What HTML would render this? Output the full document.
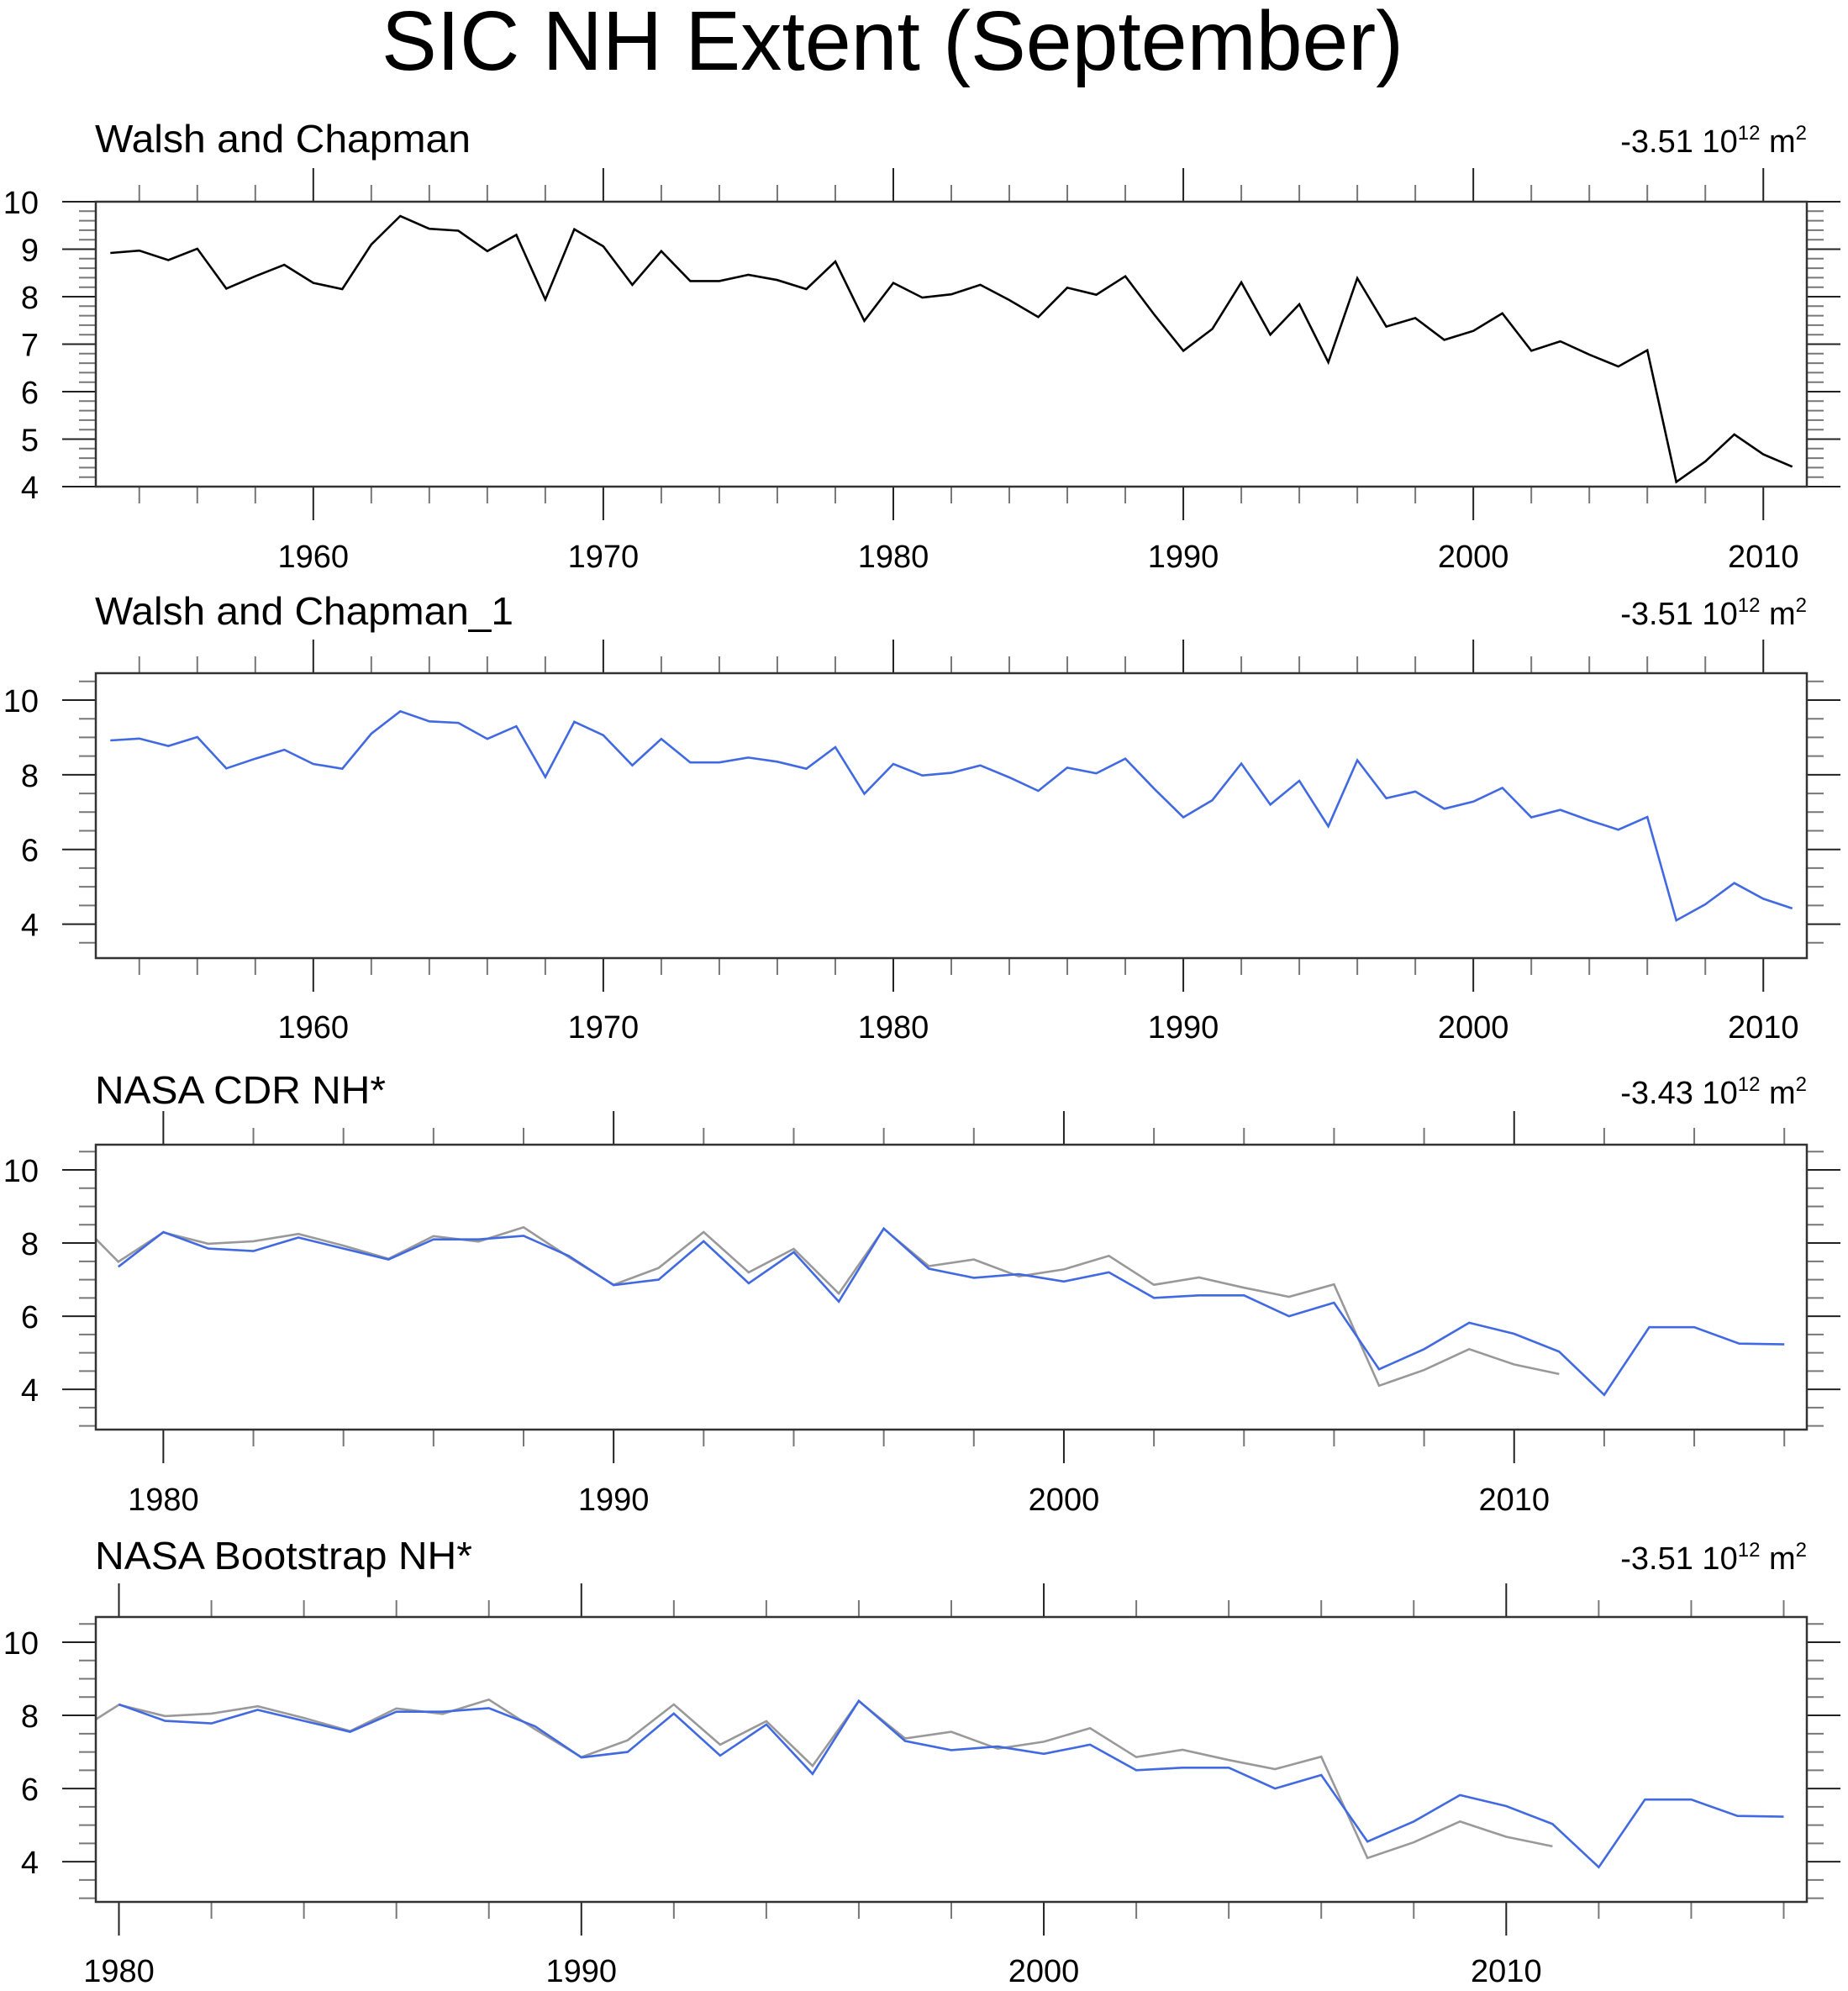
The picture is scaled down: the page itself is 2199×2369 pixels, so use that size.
<!DOCTYPE html>
<html><head><meta charset="utf-8"><title>SIC NH Extent (September)</title>
<style>
html,body{margin:0;padding:0;background:#fff;}
svg{display:block;font-family:"Liberation Sans",Arial,sans-serif;}
</style></head>
<body>
<svg id="chart" xmlns="http://www.w3.org/2000/svg" width="2199" height="2369" viewBox="0 0 2199 2369">
<rect x="0" y="0" width="2199" height="2369" fill="#fff"/>
<text x="1062" y="83" font-size="100" text-anchor="middle" textLength="1216" lengthAdjust="spacingAndGlyphs" fill="#000">SIC NH Extent (September)</text>
</svg>
<script>
// ---- data ----
const wcYears = [1953,1954,1955,1956,1957,1958,1959,1960,1961,1962,1963,1964,1965,1966,1967,1968,1969,1970,1971,1972,1973,1974,1975,1976,1977,1978,1979,1980,1981,1982,1983,1984,1985,1986,1987,1988,1989,1990,1991,1992,1993,1994,1995,1996,1997,1998,1999,2000,2001,2002,2003,2004,2005,2006,2007,2008,2009,2010,2011];
const wcValues = [8.92,8.97,8.77,9.01,8.17,8.43,8.67,8.29,8.16,9.10,9.70,9.43,9.39,8.96,9.30,7.94,9.42,9.06,8.25,8.96,8.33,8.33,8.46,8.35,8.16,8.74,7.49,8.29,7.98,8.05,8.25,7.93,7.57,8.19,8.04,8.43,7.62,6.86,7.32,8.30,7.20,7.84,6.62,8.39,7.37,7.55,7.09,7.28,7.65,6.86,7.06,6.78,6.53,6.87,4.10,4.53,5.10,4.68,4.42];
const cdrYears = [1979,1980,1981,1982,1983,1984,1985,1986,1987,1988,1989,1990,1991,1992,1993,1994,1995,1996,1997,1998,1999,2000,2001,2002,2003,2004,2005,2006,2007,2008,2009,2010,2011,2012,2013,2014,2015,2016];
const cdrValues = [7.35,8.30,7.85,7.78,8.15,7.85,7.55,8.10,8.10,8.20,7.65,6.85,7.00,8.05,6.90,7.75,6.40,8.40,7.30,7.05,7.15,6.95,7.20,6.50,6.57,6.57,6.00,6.37,4.55,5.10,5.82,5.52,5.03,3.85,5.70,5.70,5.25,5.23];
const btYears = [1980,1981,1982,1983,1984,1985,1986,1987,1988,1989,1990,1991,1992,1993,1994,1995,1996,1997,1998,1999,2000,2001,2002,2003,2004,2005,2006,2007,2008,2009,2010,2011,2012,2013,2014,2015,2016];
const btValues = [8.30,7.85,7.78,8.15,7.85,7.55,8.10,8.10,8.20,7.70,6.85,7.00,8.05,6.90,7.75,6.40,8.40,7.30,7.05,7.15,6.95,7.20,6.50,6.57,6.57,6.00,6.37,4.55,5.10,5.82,5.52,5.03,3.85,5.70,5.70,5.25,5.23];
const panelTitles = ["Walsh and Chapman","Walsh and Chapman_1","NASA CDR NH*","NASA Bootstrap NH*"];
const panelTrends = ["-3.51","-3.51","-3.43","-3.51"];
const xTickLabels = [1960,1970,1980,1990,2000,2010];

const NS = "http://www.w3.org/2000/svg";
const svg = document.getElementById("chart");
function mk(tag, attrs, parent){
  const e = document.createElementNS(NS, tag);
  for (const k in attrs) e.setAttribute(k, attrs[k]);
  (parent||svg).appendChild(e);
  return e;
}

const L = 114, R = 2150;
const panels = [
  {top:240,bot:579,x0:1952.5,x1:2011.5,y0:4,y1:10,yMaj:1,yMin:0.2,titleW:447,base:181,labY:675,series:[{x:wcYears,y:wcValues,c:"#000",n:"walsh-chapman-line"}]},
  {top:801,bot:1140,x0:1952.5,x1:2011.5,y0:3.09,y1:10.72,yMaj:2,yMin:0.5,titleW:498,base:743,labY:1235,series:[{x:wcYears,y:wcValues,c:"#4169e1",n:"walsh-chapman-1-line"}]},
  {top:1362,bot:1701,x0:1978.5,x1:2016.5,y0:2.9,y1:10.69,yMaj:2,yMin:0.5,titleW:346,base:1313,labY:1797,series:[{x:wcYears,y:wcValues,c:"#999",n:"reference-gray-line"},{x:cdrYears,y:cdrValues,c:"#4169e1",n:"nasa-cdr-line"}]},
  {top:1924,bot:2263,x0:1979.5,x1:2016.5,y0:2.9,y1:10.69,yMaj:2,yMin:0.5,titleW:449,base:1867,labY:2358,series:[{x:wcYears,y:wcValues,c:"#999",n:"reference-gray-line"},{x:btYears,y:btValues,c:"#4169e1",n:"nasa-bootstrap-line"}]}
];

panels.forEach((p, i) => {
  const g = mk("g", {});
  
  
  const xs = v => L + (v - p.x0) / (p.x1 - p.x0) * (R - L);
  const ys = v => p.bot - (v - p.y0) / (p.y1 - p.y0) * (p.bot - p.top);
  const clipId = "clip" + i;
  const cp = mk("clipPath", {id: clipId}, g);
  mk("rect", {x: L, y: p.top, width: R - L, height: p.bot - p.top}, cp);

  // title
  const t = mk("text", {x: L - 1, y: p.base, "font-size": 46, fill: "#000", textLength: p.titleW, lengthAdjust: "spacingAndGlyphs"}, g);
  
  
  t.textContent = panelTitles[i];
  // units
  const u = mk("text", {x: R, y: p.base, "font-size": 38, fill: "#000", "text-anchor": "end"}, g);
  
  
  const s1 = mk("tspan", {}, u); s1.textContent = panelTrends[i] + " 10";
  const s2 = mk("tspan", {dy: -15, "font-size": 24}, u); s2.textContent = "12";
  const s3 = mk("tspan", {dy: 15}, u); s3.textContent = " m";
  const s4 = mk("tspan", {dy: -15, "font-size": 24}, u); s4.textContent = "2";

  // y ticks
  const eps = 1e-6;
  for (let v = Math.ceil(p.y0 / p.yMin - eps) * p.yMin; v <= p.y1 + eps; v += p.yMin) {
    const y = ys(v);
    const isMaj = Math.abs(v / p.yMaj - Math.round(v / p.yMaj)) < 1e-4;
    const len = isMaj ? 40 : 20;
    const col = isMaj ? "#222" : "#777";
    const tl = mk("line", {x1: L - len, x2: L, y1: y, y2: y, stroke: col, "stroke-width": 2}, g);
    
    
    const tr = mk("line", {x1: R, x2: R + len, y1: y, y2: y, stroke: col, "stroke-width": 2}, g);
    
    
    if (isMaj) {
      const lb = mk("text", {x: 46, y: y + 14, "font-size": 38, "text-anchor": "end", fill: "#000"}, g);
      
      
      lb.textContent = String(Math.round(v));
    }
  }
  // x ticks
  for (let yr = Math.ceil(p.x0 / 2) * 2; yr <= p.x1; yr += 2) {
    const x = xs(yr);
    const isMaj = yr % 10 === 0;
    const len = isMaj ? 40 : 20;
    const col = isMaj ? "#222" : "#777";
    const tt = mk("line", {x1: x, x2: x, y1: p.top - len, y2: p.top, stroke: col, "stroke-width": 2}, g);
    
    
    const tb = mk("line", {x1: x, x2: x, y1: p.bot, y2: p.bot + len, stroke: col, "stroke-width": 2}, g);
    
    
  }
  xTickLabels.forEach(yr => {
    if (yr < p.x0 || yr > p.x1) return;
    const lb = mk("text", {x: xs(yr), y: p.labY, "font-size": 38, "text-anchor": "middle", fill: "#000"}, g);
    
    
    lb.textContent = String(yr);
  });
  // series
  p.series.forEach(s => {
    const pts = s.x.map((yr, k) => xs(yr).toFixed(1) + "," + ys(s.y[k]).toFixed(1)).join(" ");
    const pl = mk("polyline", {points: pts, fill: "none", stroke: s.c, "stroke-width": 2.6, "stroke-linejoin": "miter", "clip-path": "url(#" + clipId + ")"}, g);
    
    
  });
  // frame
  const fr = mk("rect", {x: L, y: p.top, width: R - L, height: p.bot - p.top, fill: "none", stroke: "#333", "stroke-width": 2.5}, g);
  
  
});
</script>
</body></html>
